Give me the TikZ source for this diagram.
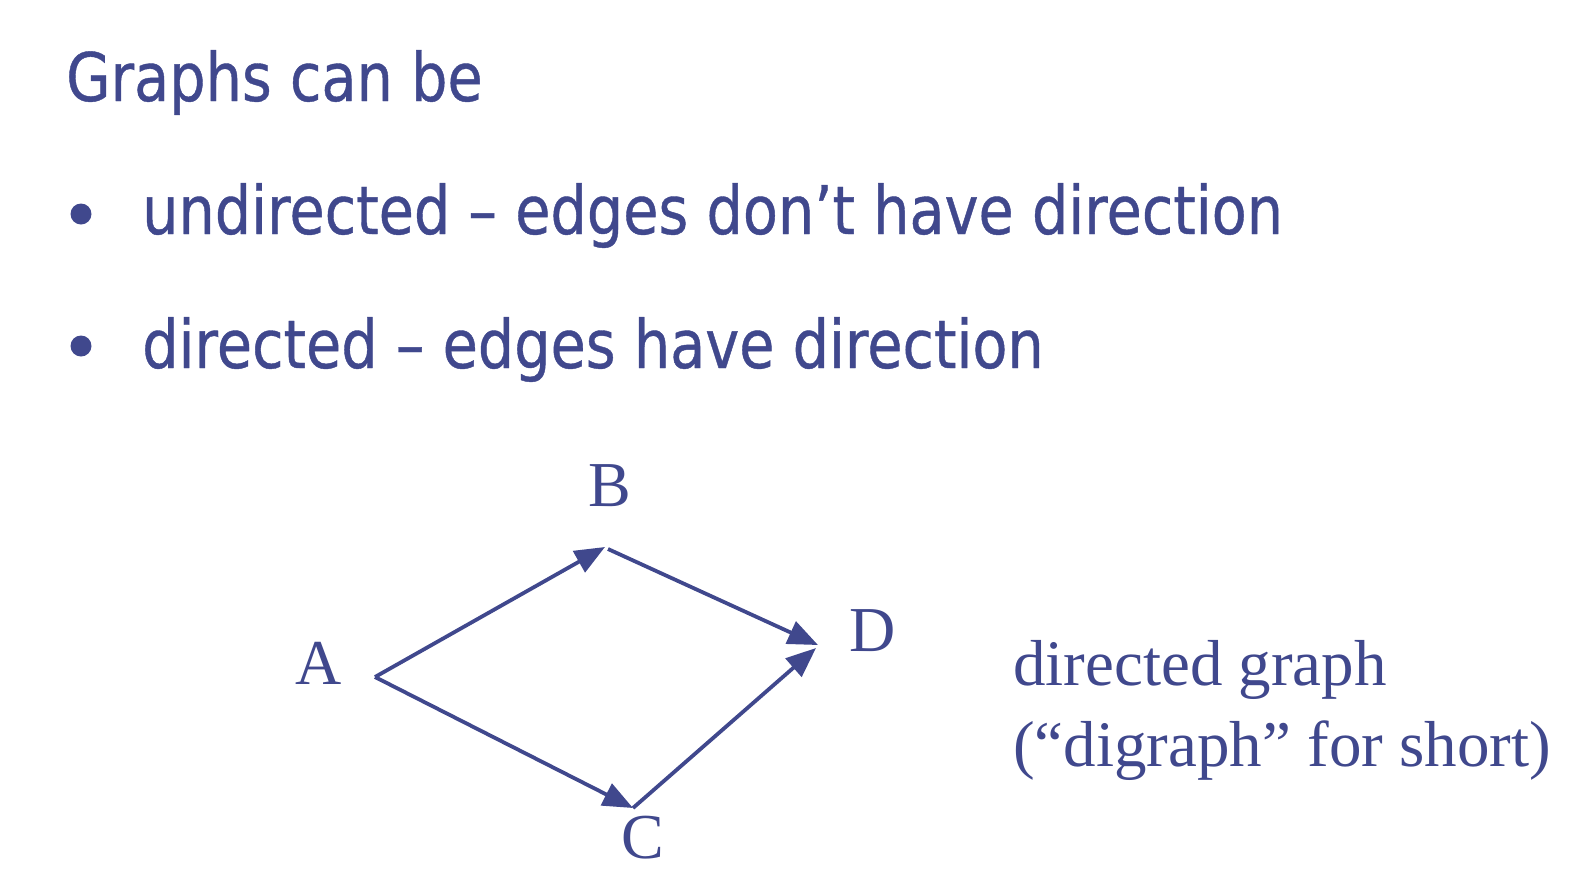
\documentclass[tikz,border=0pt]{standalone}
\usepackage{fontspec}
\setmainfont{Liberation Serif}
\newfontfamily\tahfont[FakeStretch=0.855,FakeBold=0.6]{DejaVu Sans}
\usetikzlibrary{arrows.meta}
\definecolor{ink}{RGB}{64,72,141}
\tikzset{
  head/.style={anchor=base west, inner sep=0pt, text=ink, font=\tahfont\fontsize{67}{80}\selectfont},
  vlabel/.style={inner sep=0pt, text=ink, font=\fontsize{64}{70}\selectfont},
  note/.style={anchor=base west, inner sep=0pt, text=ink, font=\fontsize{65}{78}\selectfont},
  bulletdot/.style={circle, fill=ink, inner sep=0pt, minimum size=21pt},
  edge/.style={draw=ink, line width=3.8pt, -{Triangle[length=30pt,width=24pt]}},
}
\begin{document}
\begin{tikzpicture}[x=1pt,y=-1pt]
\useasboundingbox (0,0) rectangle (1580,892);
\node[head] (title) at (66,101) {Graphs can be};
\node[bulletdot] (b1) at (81,214) {};
\node[head] (l1) at (142,234) {undirected – edges don’t have direction};
\node[bulletdot] (b2) at (81,346) {};
\node[head] (l2) at (142,368) {directed – edges have direction};

\node[vlabel] (A) at (319,663) {A};
\node[vlabel] (B) at (610,486) {B};
\node[vlabel] (C) at (643,838) {C};
\node[vlabel] (D) at (873,631) {D};

\coordinate (pA) at (375,677);
\coordinate (pB) at (605,547);
\coordinate (pBs) at (608,549);
\coordinate (pC) at (633,808);
\coordinate (pD1) at (818,645);
\coordinate (pD2) at (816,648);

\draw[edge] (pA) -- (pB);
\draw[edge] (pBs) -- (pD1);
\draw[edge] (pA) -- (pC);
\draw[edge] (pC) -- (pD2);

\node[note] (n1) at (1013,685) {directed graph};
\node[note] (n2) at (1013,766) {(“digraph” for short)};
\end{tikzpicture}
\end{document}
